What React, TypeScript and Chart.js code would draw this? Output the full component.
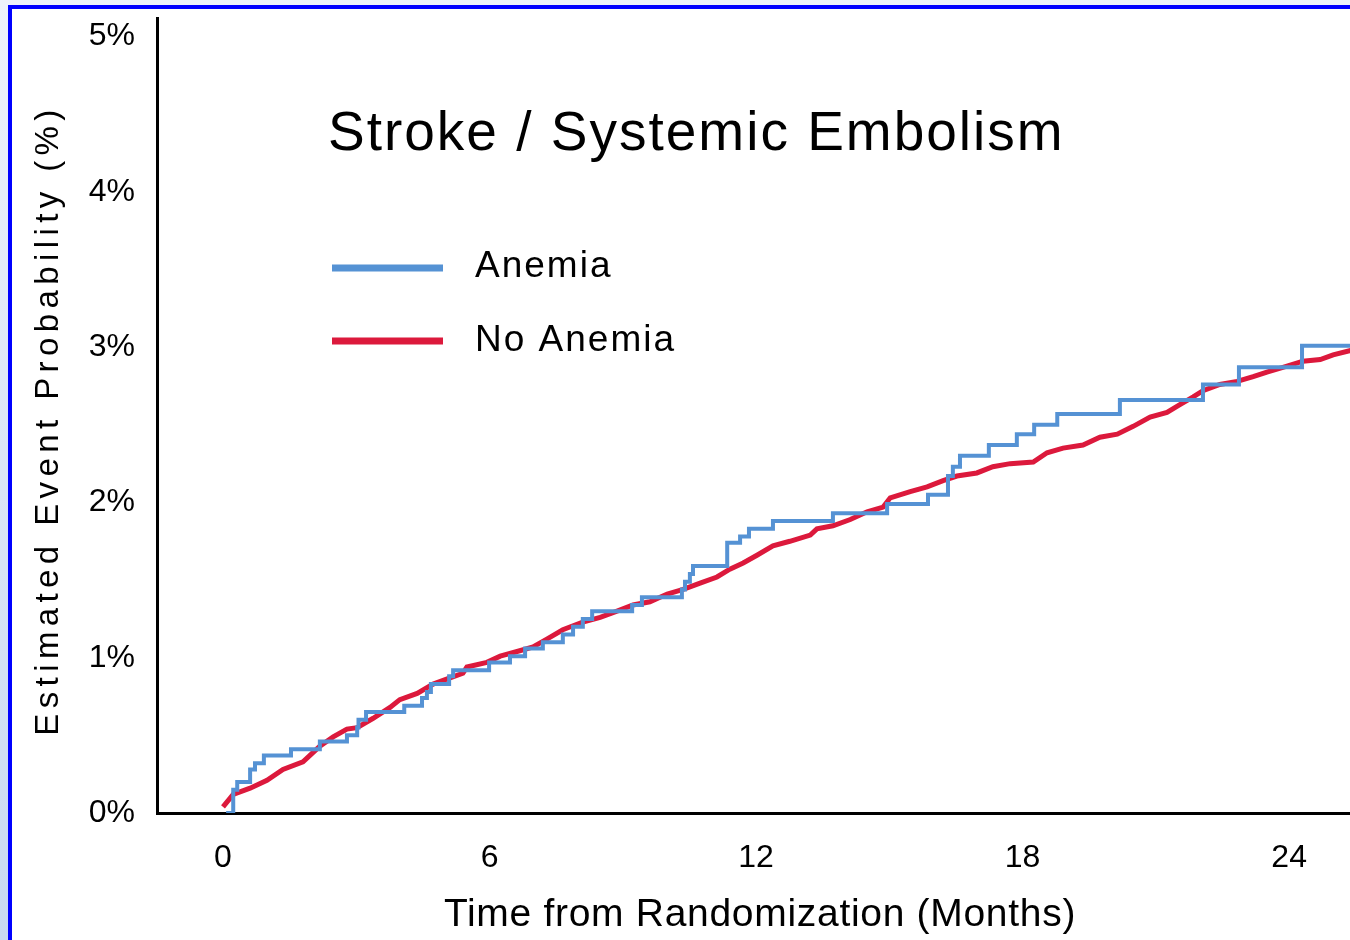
import React, { useEffect, useRef } from 'react';
import { Chart, registerables } from 'chart.js';

Chart.register(...registerables);

const chartTitle = 'Stroke / Systemic Embolism';
const xAxisTitle = 'Time from Randomization (Months)';
const yAxisTitle = 'Estimated Event Probability (%)';
const seriesNames = ['Anemia', 'No Anemia'];
const seriesColors = ['#5592d4', '#dc193c'];
const xTicks = [0, 6, 12, 18, 24];
const yTicks = [0, 1, 2, 3, 4, 5];

// Anemia: Kaplan-Meier style step curve (month of jump, new cumulative %)
const anemiaMonths = [
  0.07, 0.23, 0.32, 0.61, 0.72, 0.92, 1.53, 2.18, 2.79, 3.02, 3.05, 3.22, 4.08, 4.48, 4.59, 4.68,
  5.09, 5.18, 5.99, 6.46, 6.8, 7.2, 7.65, 7.88, 8.1, 8.31, 9.21, 9.43, 10.33, 10.4, 10.51, 10.58,
  11.35, 11.64, 11.84, 12.38, 13.73, 14.95, 15.87, 16.32, 16.43, 16.59, 17.24, 17.87, 18.26, 18.78,
  20.19, 22.06, 22.87, 24.29, 25.4,
];
const anemiaPct = [
  0, 0.15, 0.2, 0.28, 0.32, 0.37, 0.41, 0.46, 0.5, 0.55, 0.6, 0.65, 0.69, 0.74, 0.78, 0.83,
  0.88, 0.92, 0.97, 1.01, 1.06, 1.1, 1.15, 1.2, 1.25, 1.3, 1.34, 1.39, 1.44, 1.49, 1.54, 1.59,
  1.74, 1.78, 1.83, 1.88, 1.93, 1.99, 2.05, 2.17, 2.23, 2.3, 2.37, 2.44, 2.5, 2.57,
  2.66, 2.76, 2.87, 3.01, 3.01,
];

// No Anemia: finely stepped curve read at many points
const noAnemiaMonths = [
  0, 0.23, 0.61, 0.99, 1.35, 1.8, 2.03, 2.18, 2.48, 2.79, 3.02, 3.38, 3.76, 3.98, 4.37, 4.73,
  5.11, 5.4, 5.49, 5.94, 6.24, 6.62, 6.98, 7.29, 7.65, 8.1, 8.49, 8.87, 9.23, 9.61, 10.0, 10.36,
  10.74, 11.12, 11.41, 11.71, 12.02, 12.38, 12.76, 13.22, 13.37, 13.73, 14.12, 14.5, 14.86, 15.02,
  15.47, 15.85, 16.21, 16.52, 16.97, 17.33, 17.72, 18.24, 18.55, 18.91, 19.36, 19.74, 20.13, 20.49,
  20.87, 21.25, 21.54, 21.84, 22.06, 22.44, 22.83, 23.19, 23.5, 23.86, 24.31, 24.7, 24.99, 25.4,
];
const noAnemiaPct = [
  0.04, 0.12, 0.16, 0.21, 0.28, 0.33, 0.39, 0.43, 0.49, 0.54, 0.55, 0.61, 0.68, 0.73, 0.77, 0.83,
  0.87, 0.9, 0.94, 0.97, 1.01, 1.04, 1.07, 1.12, 1.18, 1.23, 1.26, 1.3, 1.34, 1.36, 1.41, 1.44,
  1.48, 1.52, 1.57, 1.61, 1.66, 1.72, 1.75, 1.79, 1.83, 1.85, 1.89, 1.94, 1.97, 2.03,
  2.07, 2.1, 2.14, 2.17, 2.19, 2.23, 2.25, 2.26, 2.32, 2.35, 2.37, 2.42, 2.44, 2.49,
  2.55, 2.58, 2.63, 2.68, 2.72, 2.76, 2.78, 2.81, 2.84, 2.87, 2.91, 2.92, 2.95, 2.98,
];

const FONT = '"Liberation Sans", Arial, Helvetica, sans-serif';

const overlayPlugin = {
  id: 'overlayText',
  afterDraw(chart: any) {
    const ctx = chart.ctx as CanvasRenderingContext2D;
    ctx.save();
    ctx.fillStyle = '#000';
    ctx.textBaseline = 'alphabetic';
    ctx.textAlign = 'left';
    // chart title
    ctx.font = `55px ${FONT}`;
    (ctx as any).letterSpacing = '2px';
    ctx.fillText(chartTitle, 328, 150);
    // legend
    const lineYs = [268, 341];
    const textYs = [277, 351];
    chart.data.datasets.forEach((ds: any, i: number) => {
      ctx.strokeStyle = ds.borderColor;
      ctx.lineWidth = 7;
      ctx.lineCap = 'butt';
      ctx.beginPath();
      ctx.moveTo(332, lineYs[i]);
      ctx.lineTo(443, lineYs[i]);
      ctx.stroke();
      ctx.font = `37px ${FONT}`;
      (ctx as any).letterSpacing = '2px';
      ctx.fillText(ds.label, 475, textYs[i]);
    });
    // x axis title
    ctx.font = `39px ${FONT}`;
    (ctx as any).letterSpacing = '0.7px';
    ctx.textAlign = 'center';
    ctx.fillText(xAxisTitle, 760, 926);
    // y axis title
    ctx.translate(58, 420);
    ctx.rotate(-Math.PI / 2);
    ctx.font = `33px ${FONT}`;
    (ctx as any).letterSpacing = '5.4px';
    ctx.textAlign = 'center';
    ctx.fillText(yAxisTitle, 0, 0);
    ctx.restore();
  },
};

export default function App() {
  const canvasRef = useRef<HTMLCanvasElement | null>(null);

  useEffect(() => {
    const canvas = canvasRef.current;
    if (!canvas) return;
    const chart = new Chart(canvas, {
      type: 'line',
      data: {
        datasets: [
          {
            label: seriesNames[0],
            data: anemiaMonths.map((m, i) => ({ x: m, y: anemiaPct[i] })),
            borderColor: seriesColors[0],
            borderWidth: 4,
            stepped: 'before',
            pointRadius: 0,
            fill: false,
            order: 1,
          },
          {
            label: seriesNames[1],
            data: noAnemiaMonths.map((m, i) => ({ x: m, y: noAnemiaPct[i] })),
            borderColor: seriesColors[1],
            borderWidth: 5,
            tension: 0,
            pointRadius: 0,
            fill: false,
            order: 2,
          },
        ],
      },
      options: {
        responsive: false,
        animation: false,
        devicePixelRatio: 1,
        layout: { padding: { left: 0, top: 18, right: 0, bottom: 0 } },
        plugins: {
          legend: { display: false },
          title: { display: false },
          tooltip: { enabled: false },
        },
        scales: {
          x: {
            type: 'linear',
            min: -1.486,
            max: 25.37,
            grid: { display: false, drawTicks: false },
            border: { display: true, color: '#000', width: 3 },
            ticks: {
              color: '#000',
              font: { family: FONT, size: 32 },
              padding: 26,
              maxRotation: 0,
              autoSkip: false,
            },
            afterBuildTicks: (scale: any) => {
              scale.ticks = xTicks.map((v) => ({ value: v }));
            },
            afterFit: (scale: any) => {
              scale.height = 127;
              scale.paddingLeft = 0;
              scale.paddingRight = 0;
            },
          },
          y: {
            type: 'linear',
            min: 0,
            max: 5.12,
            grid: { display: false, drawTicks: false },
            border: { display: true, color: '#000', width: 3 },
            ticks: {
              color: '#000',
              font: { family: FONT, size: 32 },
              padding: 22,
              callback: (v: any) => `${v}%`,
            },
            afterBuildTicks: (scale: any) => {
              scale.ticks = yTicks.map((v) => ({ value: v }));
            },
            afterFit: (scale: any) => {
              scale.width = 157;
              scale.paddingTop = 0;
              scale.paddingBottom = 0;
            },
          },
        },
      },
      plugins: [overlayPlugin],
    });
    return () => chart.destroy();
  }, []);

  return (
    <div
      style={{
        position: 'fixed',
        left: 0,
        top: 0,
        width: 1350,
        height: 940,
        overflow: 'hidden',
        background: 'linear-gradient(to bottom, #eef2fb, #c8d9f1)',
      }}
    >
      <div
        style={{
          position: 'absolute',
          left: 8,
          top: 5,
          width: 1400,
          height: 1000,
          borderLeft: '4px solid #0000ff',
          borderTop: '4px solid #0000ff',
          background: '#ffffff',
        }}
      />
      <canvas
        ref={canvasRef}
        width={1350}
        height={940}
        style={{ position: 'absolute', left: 0, top: 0, display: 'block' }}
      />
    </div>
  );
}
